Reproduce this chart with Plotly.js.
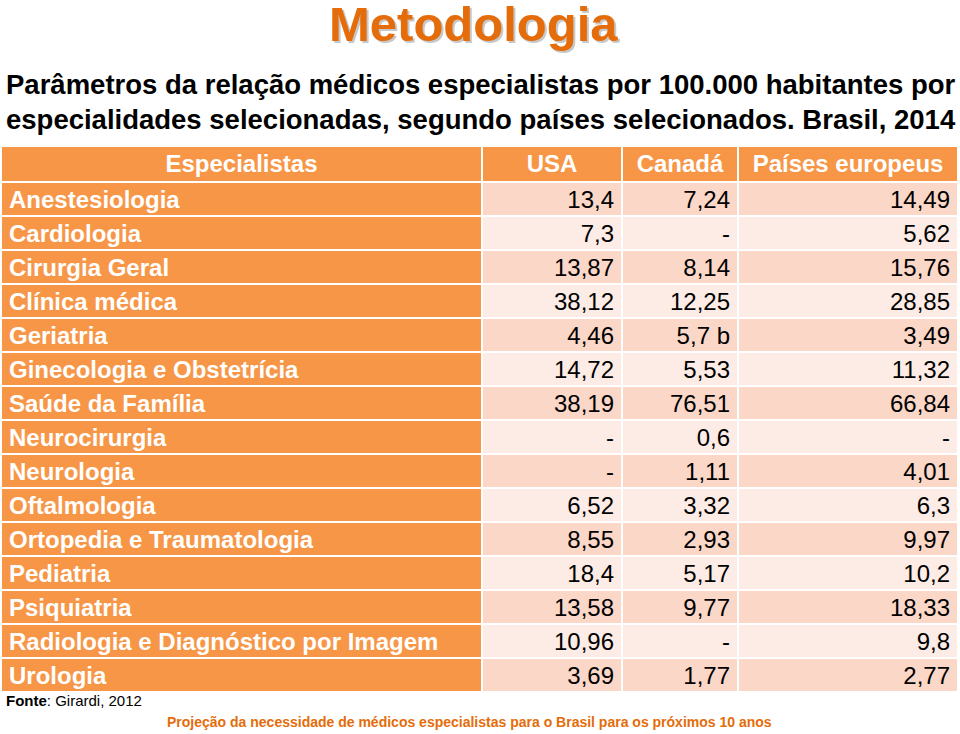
<!DOCTYPE html>
<html><head><meta charset="utf-8">
<script src="https://cdn.plot.ly/plotly-3.0.1.min.js"></script>
<style>body{margin:0;padding:0;background:#fff}#chart{width:960px;height:734px}</style>
</head><body><div id="chart"></div>
<script>
const headers = ["Especialistas", "USA", "Canadá", "Países europeus"];
const especialidades = ["Anestesiologia","Cardiologia","Cirurgia Geral","Clínica médica","Geriatria","Ginecologia e Obstetrícia","Saúde da Família","Neurocirurgia","Neurologia","Oftalmologia","Ortopedia e Traumatologia","Pediatria","Psiquiatria","Radiologia e Diagnóstico por Imagem","Urologia"];
const usa = ["13,4","7,3","13,87","38,12","4,46","14,72","38,19","-","-","6,52","8,55","18,4","13,58","10,96","3,69"];
const canada = ["7,24","-","8,14","12,25","5,7 b","5,53","76,51","0,6","1,11","3,32","2,93","5,17","9,77","-","1,77"];
const europa = ["14,49","5,62","15,76","28,85","3,49","11,32","66,84","-","4,01","6,3","9,97","10,2","18,33","9,8","2,77"];

const W = 960, H = 734;
const ORANGE = "#F79646", DARK = "#FBD7C8", LIGHT = "#FDECE6";
const band = especialidades.map((_, i) => i % 2 === 0 ? DARK : LIGHT);
const firstCol = especialidades.map(() => ORANGE);
const FONT = "Liberation Sans, Arial, sans-serif";

const tableTop = 146, tableBottom = 692;
const trace = {
  type: "table",
  domain: {x: [1 / W, 958 / W], y: [1 - tableBottom / H, 1 - tableTop / H]},
  columnwidth: [481, 140, 116, 220],
  header: {
    values: headers,
    align: "center",
    height: 36,
    fill: {color: ORANGE},
    line: {color: "#ffffff", width: 2},
    font: {family: FONT, size: 24, color: "#ffffff", weight: "bold"}
  },
  cells: {
    values: [especialidades, usa, canada, europa],
    align: ["left", "right", "right", "right"],
    height: 34,
    fill: {color: [firstCol, band, band, band]},
    line: {color: "#ffffff", width: 2},
    font: {family: FONT, size: 24,
           weight: ["bold", "normal", "normal", "normal"],
           color: [especialidades.map(() => "#ffffff"), "#000000", "#000000", "#000000"]}
  }
};

const sub = {family: FONT, size: 27.5, color: "#000000"};
const layout = {
  width: W, height: H,
  margin: {l: 0, r: 0, t: 0, b: 0},
  paper_bgcolor: "#ffffff",
  showlegend: false,
  annotations: [
    {text: "<b>Metodologia</b>", x: 475 / W, y: 1 - 26 / H, xref: "paper", yref: "paper",
     xanchor: "center", yanchor: "middle", showarrow: false,
     font: {family: FONT, size: 49, color: "#C8C8C8"}},
    {text: "<b>Metodologia</b>", x: 473 / W, y: 1 - 24 / H, xref: "paper", yref: "paper",
     xanchor: "center", yanchor: "middle", showarrow: false,
     font: {family: FONT, size: 49, color: "#E46C0A"}},
    {text: "<b>Parâmetros da relação médicos especialistas por 100.000 habitantes por</b>",
     x: 4 / W, y: 1 - 85 / H, xref: "paper", yref: "paper", xanchor: "left", yanchor: "middle",
     showarrow: false, font: sub},
    {text: "<b>especialidades selecionadas, segundo países selecionados. Brasil, 2014</b>",
     x: 4 / W, y: 1 - 120 / H, xref: "paper", yref: "paper", xanchor: "left", yanchor: "middle",
     showarrow: false, font: sub},
    {text: "<b>Fonte</b>: Girardi, 2012", x: 4 / W, y: 1 - 700 / H, xref: "paper", yref: "paper",
     xanchor: "left", yanchor: "middle", showarrow: false,
     font: {family: FONT, size: 15, color: "#000000"}},
    {text: "<b>Projeção da necessidade de médicos especialistas para o Brasil para os próximos 10 anos</b>",
     x: 469 / W, y: 1 - 722 / H, xref: "paper", yref: "paper", xanchor: "center", yanchor: "middle",
     showarrow: false, font: {family: FONT, size: 14, color: "#E46C0A"}}
  ]
};
Plotly.newPlot("chart", [trace], layout, {displayModeBar: false, staticPlot: true});
</script></body></html>
